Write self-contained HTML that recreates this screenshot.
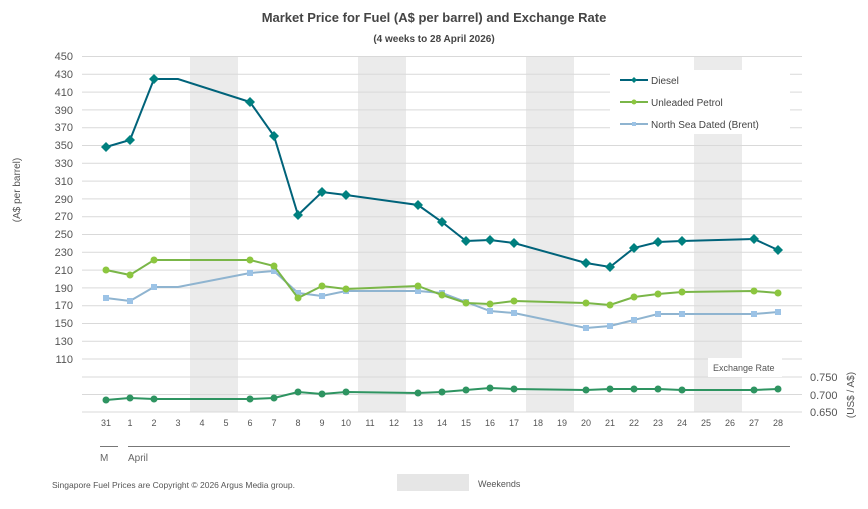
<!DOCTYPE html>
<html><head><style>body{margin:0;background:#fff}svg{font-family:"Liberation Sans",sans-serif}</style></head><body>
<svg width="868" height="504" viewBox="0 0 868 504" xmlns="http://www.w3.org/2000/svg">
<rect width="868" height="504" fill="#fff"/>
<text x="434" y="22" text-anchor="middle" font-size="13" font-weight="bold" fill="#444">Market Price for Fuel (A$ per barrel) and Exchange Rate</text>
<text x="434" y="42" text-anchor="middle" font-size="10" font-weight="bold" fill="#444">(4 weeks to 28 April 2026)</text>
<g fill="#ebebeb">
<rect x="190" y="56" width="48" height="356"/><rect x="358" y="56" width="48" height="356"/>
<rect x="526" y="56" width="48" height="356"/><rect x="694" y="56" width="48" height="356"/>
</g>
<g stroke="#d9d9d9" stroke-width="1">
<line x1="82" x2="802" y1="56.5" y2="56.5"/><line x1="82" x2="802" y1="74.3" y2="74.3"/><line x1="82" x2="802" y1="92.1" y2="92.1"/><line x1="82" x2="802" y1="109.9" y2="109.9"/><line x1="82" x2="802" y1="127.7" y2="127.7"/><line x1="82" x2="802" y1="145.5" y2="145.5"/><line x1="82" x2="802" y1="163.3" y2="163.3"/><line x1="82" x2="802" y1="181.1" y2="181.1"/><line x1="82" x2="802" y1="198.9" y2="198.9"/><line x1="82" x2="802" y1="216.7" y2="216.7"/><line x1="82" x2="802" y1="234.5" y2="234.5"/><line x1="82" x2="802" y1="252.3" y2="252.3"/><line x1="82" x2="802" y1="270.1" y2="270.1"/><line x1="82" x2="802" y1="287.9" y2="287.9"/><line x1="82" x2="802" y1="305.7" y2="305.7"/><line x1="82" x2="802" y1="323.5" y2="323.5"/><line x1="82" x2="802" y1="341.3" y2="341.3"/><line x1="82" x2="802" y1="359" y2="359"/>
<line x1="82" x2="802" y1="377" y2="377"/><line x1="82" x2="802" y1="394.5" y2="394.5"/><line x1="82" x2="802" y1="412" y2="412"/>
</g>
<g font-size="11" fill="#555" text-anchor="end">
<text x="73" y="60">450</text><text x="73" y="78">430</text><text x="73" y="96">410</text><text x="73" y="114">390</text><text x="73" y="131">370</text><text x="73" y="149">350</text><text x="73" y="167">330</text><text x="73" y="185">310</text><text x="73" y="203">290</text><text x="73" y="220">270</text><text x="73" y="238">250</text><text x="73" y="256">230</text><text x="73" y="274">210</text><text x="73" y="292">190</text><text x="73" y="309">170</text><text x="73" y="327">150</text><text x="73" y="345">130</text><text x="73" y="363">110</text>
</g>
<g font-size="11" fill="#555"><text x="810" y="381">0.750</text><text x="810" y="399">0.700</text><text x="810" y="416">0.650</text></g>
<text transform="translate(20,190) rotate(-90)" text-anchor="middle" font-size="10" fill="#555">(A$ per barrel)</text>
<text transform="translate(854,395) rotate(-90)" text-anchor="middle" font-size="10" fill="#555">(US$ / A$)</text>
<g font-size="9" fill="#555" text-anchor="middle">
<text x="106" y="426">31</text><text x="130" y="426">1</text><text x="154" y="426">2</text><text x="178" y="426">3</text><text x="202" y="426">4</text><text x="226" y="426">5</text><text x="250" y="426">6</text><text x="274" y="426">7</text><text x="298" y="426">8</text><text x="322" y="426">9</text><text x="346" y="426">10</text><text x="370" y="426">11</text><text x="394" y="426">12</text><text x="418" y="426">13</text><text x="442" y="426">14</text><text x="466" y="426">15</text><text x="490" y="426">16</text><text x="514" y="426">17</text><text x="538" y="426">18</text><text x="562" y="426">19</text><text x="586" y="426">20</text><text x="610" y="426">21</text><text x="634" y="426">22</text><text x="658" y="426">23</text><text x="682" y="426">24</text><text x="706" y="426">25</text><text x="730" y="426">26</text><text x="754" y="426">27</text><text x="778" y="426">28</text>
</g>
<line x1="100" x2="118" y1="446.5" y2="446.5" stroke="#777"/>
<line x1="128" x2="790" y1="446.5" y2="446.5" stroke="#777"/>
<text x="100" y="461" font-size="10" fill="#666">M</text>
<text x="128" y="461" font-size="10" fill="#666">April</text>
<!-- Brent -->
<polyline fill="none" stroke="#8fb4d0" stroke-width="2" points="106,298 130,301 154,287 178,287 250,273 274,271 298,293 322,296 346,291 418,291 442,293 466,302 490,311 514,313 586,328 610,326 634,320 658,314 682,314 754,314 778,312"/>
<g fill="#9cc3e6">
<rect x="103" y="295" width="6" height="6"/><rect x="127" y="298" width="6" height="6"/><rect x="151" y="284" width="6" height="6"/><rect x="247" y="270" width="6" height="6"/><rect x="271" y="268" width="6" height="6"/><rect x="295" y="290" width="6" height="6"/><rect x="319" y="293" width="6" height="6"/><rect x="343" y="288" width="6" height="6"/><rect x="415" y="288" width="6" height="6"/><rect x="439" y="290" width="6" height="6"/><rect x="463" y="299" width="6" height="6"/><rect x="487" y="308" width="6" height="6"/><rect x="511" y="310" width="6" height="6"/><rect x="583" y="325" width="6" height="6"/><rect x="607" y="323" width="6" height="6"/><rect x="631" y="317" width="6" height="6"/><rect x="655" y="311" width="6" height="6"/><rect x="679" y="311" width="6" height="6"/><rect x="751" y="311" width="6" height="6"/><rect x="775" y="309" width="6" height="6"/>
</g>
<!-- Unleaded -->
<polyline fill="none" stroke="#7ab648" stroke-width="2" points="106,270 130,275 154,260 250,260 274,266 298,298 322,286 346,289 418,286 442,295 466,303 490,304 514,301 586,303 610,305 634,297 658,294 682,292 754,291 778,293"/>
<g fill="#8cc63f">
<circle cx="106" cy="270" r="3.5"/><circle cx="130" cy="275" r="3.5"/><circle cx="154" cy="260" r="3.5"/><circle cx="250" cy="260" r="3.5"/><circle cx="274" cy="266" r="3.5"/><circle cx="298" cy="298" r="3.5"/><circle cx="322" cy="286" r="3.5"/><circle cx="346" cy="289" r="3.5"/><circle cx="418" cy="286" r="3.5"/><circle cx="442" cy="295" r="3.5"/><circle cx="466" cy="303" r="3.5"/><circle cx="490" cy="304" r="3.5"/><circle cx="514" cy="301" r="3.5"/><circle cx="586" cy="303" r="3.5"/><circle cx="610" cy="305" r="3.5"/><circle cx="634" cy="297" r="3.5"/><circle cx="658" cy="294" r="3.5"/><circle cx="682" cy="292" r="3.5"/><circle cx="754" cy="291" r="3.5"/><circle cx="778" cy="293" r="3.5"/>
</g>
<!-- Diesel -->
<polyline fill="none" stroke="#00637a" stroke-width="2" points="106,147 130,140 154,79 178,79 250,102 274,136 298,215 322,192 346,195 418,205 442,222 466,241 490,240 514,243 586,263 610,267 634,248 658,242 682,241 754,239 778,250"/>
<g fill="#00807f">
<path d="M106,142l5,5-5,5-5-5z"/><path d="M130,135l5,5-5,5-5-5z"/><path d="M154,74l5,5-5,5-5-5z"/><path d="M250,97l5,5-5,5-5-5z"/><path d="M274,131l5,5-5,5-5-5z"/><path d="M298,210l5,5-5,5-5-5z"/><path d="M322,187l5,5-5,5-5-5z"/><path d="M346,190l5,5-5,5-5-5z"/><path d="M418,200l5,5-5,5-5-5z"/><path d="M442,217l5,5-5,5-5-5z"/><path d="M466,236l5,5-5,5-5-5z"/><path d="M490,235l5,5-5,5-5-5z"/><path d="M514,238l5,5-5,5-5-5z"/><path d="M586,258l5,5-5,5-5-5z"/><path d="M610,262l5,5-5,5-5-5z"/><path d="M634,243l5,5-5,5-5-5z"/><path d="M658,237l5,5-5,5-5-5z"/><path d="M682,236l5,5-5,5-5-5z"/><path d="M754,234l5,5-5,5-5-5z"/><path d="M778,245l5,5-5,5-5-5z"/>
</g>
<!-- Exchange -->
<polyline fill="none" stroke="#2e9461" stroke-width="2" points="106,400 130,398 154,399 250,399 274,398 298,392 322,394 346,392 418,393 442,392 466,390 490,388 514,389 586,390 610,389 634,389 658,389 682,390 754,390 778,389"/>
<g fill="#2e9461">
<circle cx="106" cy="400" r="3.5"/><circle cx="130" cy="398" r="3.5"/><circle cx="154" cy="399" r="3.5"/><circle cx="250" cy="399" r="3.5"/><circle cx="274" cy="398" r="3.5"/><circle cx="298" cy="392" r="3.5"/><circle cx="322" cy="394" r="3.5"/><circle cx="346" cy="392" r="3.5"/><circle cx="418" cy="393" r="3.5"/><circle cx="442" cy="392" r="3.5"/><circle cx="466" cy="390" r="3.5"/><circle cx="490" cy="388" r="3.5"/><circle cx="514" cy="389" r="3.5"/><circle cx="586" cy="390" r="3.5"/><circle cx="610" cy="389" r="3.5"/><circle cx="634" cy="389" r="3.5"/><circle cx="658" cy="389" r="3.5"/><circle cx="682" cy="390" r="3.5"/><circle cx="754" cy="390" r="3.5"/><circle cx="778" cy="389" r="3.5"/>
</g>
<!-- Legend -->
<rect x="610" y="70" width="180" height="64" fill="#fff"/>
<line x1="620" x2="648" y1="80" y2="80" stroke="#00637a" stroke-width="2"/><path d="M634,77l3,3-3,3-3-3z" fill="#00807f"/>
<text x="651" y="84" font-size="10" fill="#444">Diesel</text>
<line x1="620" x2="648" y1="102" y2="102" stroke="#7ab648" stroke-width="2"/><circle cx="634" cy="102" r="2.5" fill="#8cc63f"/>
<text x="651" y="106" font-size="10" fill="#444">Unleaded Petrol</text>
<line x1="620" x2="648" y1="124" y2="124" stroke="#8fb4d0" stroke-width="2"/><rect x="632" y="122" width="4" height="4" fill="#9cc3e6"/>
<text x="651" y="128" font-size="10" fill="#444">North Sea Dated (Brent)</text>
<rect x="708" y="358" width="74" height="19" fill="#fff"/>
<text x="713" y="371" font-size="9" fill="#555">Exchange Rate</text>
<text x="52" y="488" font-size="8.5" fill="#555">Singapore  Fuel Prices are  Copyright © 2026  Argus  Media  group.</text>
<rect x="397" y="474" width="72" height="17" fill="#e6e6e6"/>
<text x="478" y="487" font-size="9" fill="#555">Weekends</text>
</svg>
</body></html>
